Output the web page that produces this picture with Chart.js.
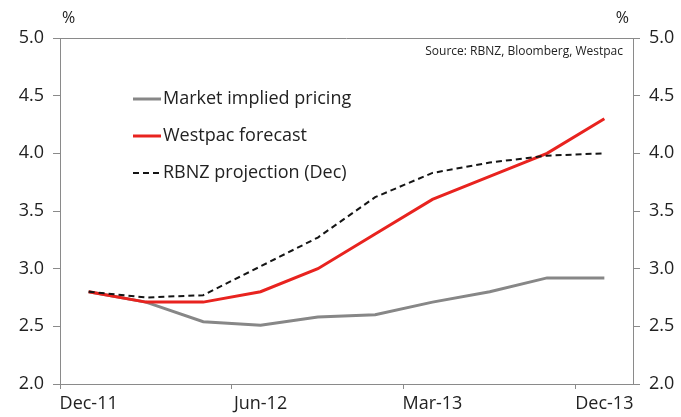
<!DOCTYPE html>
<html lang="en">
<head>
  <meta charset="UTF-8" />
  <title>Market pricing vs forecasts</title>
  <script src="https://cdn.jsdelivr.net/npm/chart.js"></script>
  <style>
    body {
      margin: 0;
      background: #ffffff;
      overflow: hidden;
    }
    canvas {
      display: block;
    }
  </style>
</head>
<body>
  <canvas id="chart" width="681" height="417"></canvas>

  <script>
    // x categories (only every third one gets a label)
    const categories = ['Dec-11', 'Feb-12', 'Apr-12', 'Jun-12', 'Sep-12', 'Dec-12', 'Mar-13', 'Jun-13', 'Sep-13', 'Dec-13'];

    const marketPricing   = [2.80, 2.71, 2.54, 2.51, 2.58, 2.60, 2.71, 2.80, 2.92, 2.92];
    const westpacForecast = [2.80, 2.71, 2.71, 2.80, 3.00, 3.30, 3.60, 3.80, 4.00, 4.30];
    const rbnzProjection  = [2.80, 2.75, 2.77, 3.02, 3.27, 3.62, 3.83, 3.92, 3.98, 4.00];

    const seriesNames = ['Market implied pricing', 'Westpac forecast', 'RBNZ projection (Dec)'];
    const sourceNote = 'Source: RBNZ, Bloomberg, Westpac';

    const FONT = '"Open Sans", "DejaVu Sans", sans-serif';
    const AXIS = '#8a8a8a';
    const TEXT = '#222222';

    // extra drawing: top frame line, % labels, source, legend inside plot
    const extras = {
      id: 'extras',
      afterDraw(chart) {
        const c = chart.ctx;
        const a = chart.chartArea;
        c.save();
        c.strokeStyle = AXIS;
        c.lineWidth = 1;
        c.beginPath();
        c.moveTo(a.left, a.top + 0.5);
        c.lineTo(a.right, a.top + 0.5);
        c.stroke();

        c.fillStyle = TEXT;
        c.font = '16px ' + FONT;
        c.textBaseline = 'middle';
        c.textAlign = 'left';
        c.fillText('%', 62, 18);
        c.textAlign = 'right';
        c.fillText('%', 629, 18);

        c.font = '12px ' + FONT;
        c.fillText(sourceNote, 623, 52);

        // legend
        c.font = '18px ' + FONT;
        c.textAlign = 'left';
        const rows = [99, 136, 173];
        chart.data.datasets.forEach((ds, i) => {
          const y = rows[i];
          c.strokeStyle = ds.borderColor;
          c.lineWidth = ds.borderWidth;
          c.setLineDash(ds.borderDash || []);
          c.beginPath();
          c.moveTo(133, y);
          c.lineTo(161, y);
          c.stroke();
          c.setLineDash([]);
          c.fillStyle = TEXT;
          c.fillText(ds.label, 163, y);
        });
        c.restore();
      }
    };

    const yAxis = (pos, width) => ({
      type: 'linear',
      position: pos,
      min: 2,
      max: 5,
      ticks: {
        stepSize: 0.5,
        padding: 9,
        color: TEXT,
        font: { family: FONT, size: 18 },
        callback: v => v.toFixed(1)
      },
      grid: {
        drawOnChartArea: false,
        drawTicks: true,
        tickLength: 7,
        color: AXIS
      },
      border: { display: true, color: AXIS },
      afterFit: s => { s.width = width; }
    });

    const ctx = document.getElementById('chart').getContext('2d');
    new Chart(ctx, {
      type: 'line',
      data: {
        labels: categories,
        datasets: [
          {
            label: seriesNames[0],
            data: marketPricing,
            borderColor: '#878787',
            borderWidth: 3,
            pointRadius: 0,
            tension: 0,
            order: 3
          },
          {
            label: seriesNames[1],
            data: westpacForecast,
            borderColor: '#e8231f',
            borderWidth: 3,
            pointRadius: 0,
            tension: 0,
            order: 2
          },
          {
            label: seriesNames[2],
            data: rbnzProjection,
            borderColor: '#151515',
            borderWidth: 2,
            borderDash: [6, 4],
            pointRadius: 0,
            tension: 0,
            order: 1
          }
        ]
      },
      options: {
        responsive: false,
        animation: false,
        layout: { padding: { top: 38, left: 0, right: 0, bottom: 0 } },
        plugins: {
          legend: { display: false },
          tooltip: { enabled: false }
        },
        scales: {
          x: {
            offset: true,
            ticks: {
              autoSkip: false,
              maxRotation: 0,
              padding: 4,
              color: TEXT,
              font: { family: FONT, size: 18 },
              callback: (v, i) => (i % 3 === 0 ? categories[i] : '')
            },
            grid: {
              offset: true,
              drawOnChartArea: false,
              tickLength: 5,
              color: c => (c.index % 3 === 0 ? AXIS : 'rgba(0,0,0,0)')
            },
            border: { display: true, color: AXIS },
            afterFit: s => { s.height = 33; }
          },
          y: yAxis('left', 60),
          y2: yAxis('right', 48)
        }
      },
      plugins: [extras]
    });
  </script>
</body>
</html>
